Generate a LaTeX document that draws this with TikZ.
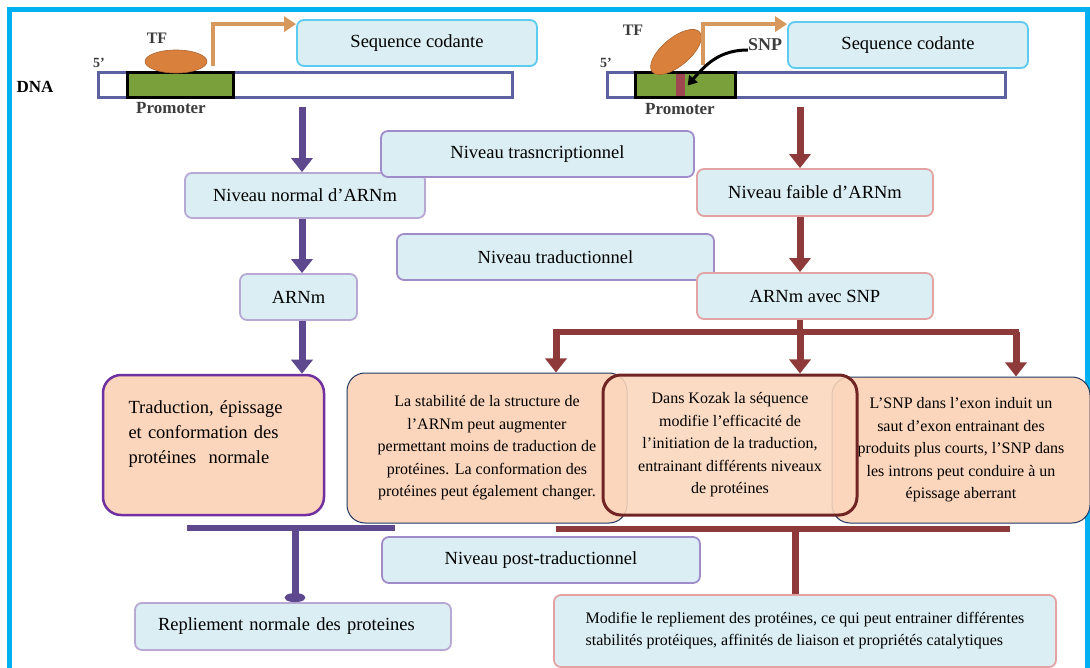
\documentclass[tikz,border=0pt]{standalone}
\usepackage{fontspec}
\setmainfont{Liberation Serif}
\usetikzlibrary{shapes.geometric,arrows.meta,positioning}
\definecolor{framecyan}{RGB}{0,176,240}
\definecolor{boxblue}{RGB}{218,238,243}
\definecolor{seqline}{RGB}{92,203,240}
\definecolor{lavender}{RGB}{184,168,212}
\definecolor{levelline}{RGB}{160,140,200}
\definecolor{rosy}{RGB}{228,162,162}
\definecolor{peach}{RGB}{251,214,188}
\definecolor{normal}{RGB}{94,72,142}
\definecolor{snpred}{RGB}{142,58,58}
\definecolor{violet}{RGB}{112,48,160}
\definecolor{navy}{RGB}{32,56,100}
\definecolor{darkred}{RGB}{112,36,36}
\definecolor{tforange}{RGB}{217,128,60}
\definecolor{txorange}{RGB}{214,152,92}
\definecolor{dnablue}{RGB}{92,98,160}
\definecolor{promgreen}{RGB}{122,160,60}
\definecolor{snpmark}{RGB}{160,70,80}
\definecolor{tagtext}{RGB}{60,60,60}

\begin{document}
\begin{tikzpicture}[x=1pt, y=-1pt,
	box/.style={draw, rectangle, rounded corners=7pt, fill=boxblue, line width=1.8pt, inner sep=0pt, font=\fontsize{18.5}{22}\selectfont},
	note/.style={draw=navy, rectangle, rounded corners=18pt, fill=peach, line width=1pt, align=center, inner sep=0pt, font=\fontsize{16}{22.5}\selectfont},
	tag/.style={inner sep=0pt, text=tagtext, font=\bfseries\fontsize{16}{18}\selectfont},
	dnabar/.style={draw=dnablue, fill=white, line width=3pt, minimum height=25pt, inner sep=0pt},
	promoter/.style={draw=black, fill=promgreen, line width=3pt, minimum height=25pt, inner sep=0pt},
	tf/.style={ellipse, draw=tforange!80!black, fill=tforange, line width=0.6pt, inner sep=0pt},
	txarrow/.style={draw=txorange, line width=4.5pt, -{Triangle[width=15pt,length=12pt]}},
	normarrow/.style={draw=normal, line width=7pt, -{Triangle[width=21pt,length=14pt]}},
	snparrow/.style={draw=snpred, line width=7pt, -{Triangle[width=21pt,length=14pt]}},
	normbar/.style={draw=normal, line width=6pt},
	snpbar/.style={draw=snpred, line width=6pt}]
	\useasboundingbox (0,0) rectangle (1090,668);
	\draw[framecyan, line width=5pt] (9.5,668) -- (9.5,9.5) -- (1087,9.5) -- (1087,668);

	\node[tag, font=\bfseries\fontsize{17}{18}\selectfont, text=black] (dna) at (35,87) {DNA};
	\node[dnabar, minimum width=414pt] (dnaL) at (305,85.5) {};
	\node[promoter, minimum width=106pt] (promL) at (180,85.5) {};
	\node[tf, minimum width=62pt, minimum height=23pt] (tfL) at (176,61.5) {};
	\node[tag] (tfLtag) at (157,38) {TF};
	\node[tag, font=\bfseries\fontsize{14}{16}\selectfont] (fiveL) at (99,63) {5’};
	\node[tag, font=\bfseries\fontsize{17}{18}\selectfont] (promLtag) at (171,108) {Promoter};
	\node[box, draw=seqline, minimum width=240pt, minimum height=46pt] (seqL) at (417,43) {Sequence codante};

	\node[dnabar, minimum width=398pt] (dnaR) at (806,85.5) {};
	\node[promoter, minimum width=100pt] (promR) at (685,85.5) {};
	\node[fill=snpmark, minimum width=9pt, minimum height=22pt, inner sep=0pt] (snpmk) at (680,85.5) {};
	\node[tf, minimum width=62pt, minimum height=28pt, rotate=40] (tfR) at (676,52) {};
	\node[tag] (tfRtag) at (633,30) {TF};
	\node[tag, font=\bfseries\fontsize{14}{16}\selectfont] (fiveR) at (606,63) {5’};
	\node[tag, font=\bfseries\fontsize{17}{18}\selectfont] (promRtag) at (680,109) {Promoter};
	\node[tag, font=\bfseries\fontsize{18}{20}\selectfont] (snp) at (765,45) {SNP};
	\node[box, draw=seqline, minimum width=240pt, minimum height=46pt] (seqR) at (908,45) {Sequence codante};

	\coordinate (txL) at (213,66);
	\coordinate (txR) at (703,65);
	\draw[txarrow] (txL) |- ([yshift=-5pt]seqL.north west);
	\draw[txarrow] (txR) |- ([yshift=-3pt]seqR.north west);
	\draw[line width=3pt, -{Triangle[width=11pt,length=9pt]}] ([yshift=-5pt]snp.west) .. controls (720,50) and (706,64) .. ([xshift=3pt]snpmk.east);

	\node[box, draw=lavender, minimum width=240pt, minimum height=45pt] (normL) at (305,195.5) {Niveau normal d’ARNm};
	\node[box, draw=lavender, minimum width=117pt, minimum height=46pt] (arnmL) at (298.5,297) {ARNm};
	\node[note, draw=violet, line width=2.5pt, text width=170pt, align=left, minimum width=221pt, minimum height=140pt, font=\fontsize{18.5}{25}\selectfont] (tradL) at (213.5,445) {Traduction, épissage\\et conformation des\\protéines~ normale\\ \mbox{}};

	\node[box, draw=levelline, minimum width=313pt, minimum height=46pt] (transc) at (537.5,154) {Niveau trasncriptionnel};
	\node[box, draw=levelline, minimum width=317pt, minimum height=46pt] (tradn) at (555.5,257) {Niveau traductionnel};
	\node[box, draw=levelline, minimum width=318pt, minimum height=46pt] (post) at (541,560) {Niveau post-traductionnel};

	\node[box, draw=rosy, minimum width=236pt, minimum height=47pt] (faible) at (815,192.5) {Niveau faible d’ARNm};
	\node[box, draw=rosy, minimum width=236pt, minimum height=46pt] (arnmsnp) at (815,296) {ARNm avec SNP};

	\node[note, minimum width=280pt, minimum height=150pt] (stabA) at (487,448) {La stabilité de la structure de\\l’ARNm peut augmenter\\permettant moins de traduction de\\protéines. La conformation des\\protéines peut également changer.};
	\node[note, minimum width=258pt, minimum height=146pt] (exonC) at (961,450) {L’SNP dans l’exon induit un\\saut d’exon entrainant des\\produits plus courts, l’SNP dans\\les introns peut conduire à un\\épissage aberrant};
	\node[note, draw=darkred, line width=3pt, fill opacity=0.88, text opacity=1, minimum width=254pt, minimum height=140pt] (kozak) at (730,445) {Dans Kozak la séquence\\modifie l’efficacité de\\l’initiation de la traduction,\\entrainant différents niveaux\\de protéines};

	\node[box, draw=lavender, text width=270pt, align=left, minimum width=316pt, minimum height=47pt] (rep) at (293,626.5) {Repliement normale des proteines};
	\node[box, draw=rosy, align=left, minimum width=502pt, minimum height=72pt, font=\fontsize{16}{22}\selectfont] (modif) at (805,631) {Modifie le repliement des protéines, ce qui peut entrainer différentes\\stabilités protéiques, affinités de liaison et propriétés catalytiques};

	\coordinate (stemL) at (302,107);
	\coordinate (stemR) at (800,107);
	\draw[normarrow] (stemL) -- (normL.north -| stemL);
	\draw[normarrow] (normL.south -| stemL) -- (arnmL.north -| stemL);
	\draw[normarrow] (arnmL.south -| stemL) -- (tradL.north -| stemL);

	\draw[snparrow] (stemR) -- (faible.north -| stemR);
	\draw[snparrow] (faible.south -| stemR) -- (arnmsnp.north -| stemR);
	\coordinate (fork) at (800,332);
	\coordinate (forkA) at (556,332);
	\coordinate (forkC) at (1016,332);
	\draw[snpbar] (arnmsnp.south -| fork) -- (fork);
	\draw[snpbar] ([xshift=-3pt]forkA) -- ([xshift=3pt]forkC);
	\draw[snparrow] (forkA) -- (stabA.north -| forkA);
	\draw[snparrow] (fork) -- (kozak.north -| fork);
	\draw[snparrow] (forkC) -- (exonC.north -| forkC);

	\coordinate (barL1) at (187,528);
	\coordinate (barL2) at (395,528);
	\coordinate (dropL) at (295,528);
	\draw[normbar] (barL1) -- (barL2);
	\draw[normbar, line width=7pt, -{Ellipse[length=9pt,width=20pt]}] (dropL) -- (rep.north -| dropL);
	\coordinate (barR1) at (556,529);
	\coordinate (barR2) at (1010,529);
	\coordinate (dropR) at (795,529);
	\draw[snpbar] (barR1) -- (barR2);
	\draw[snpbar, line width=7pt] (dropR) -- (modif.north -| dropR);
\end{tikzpicture}
\end{document}
